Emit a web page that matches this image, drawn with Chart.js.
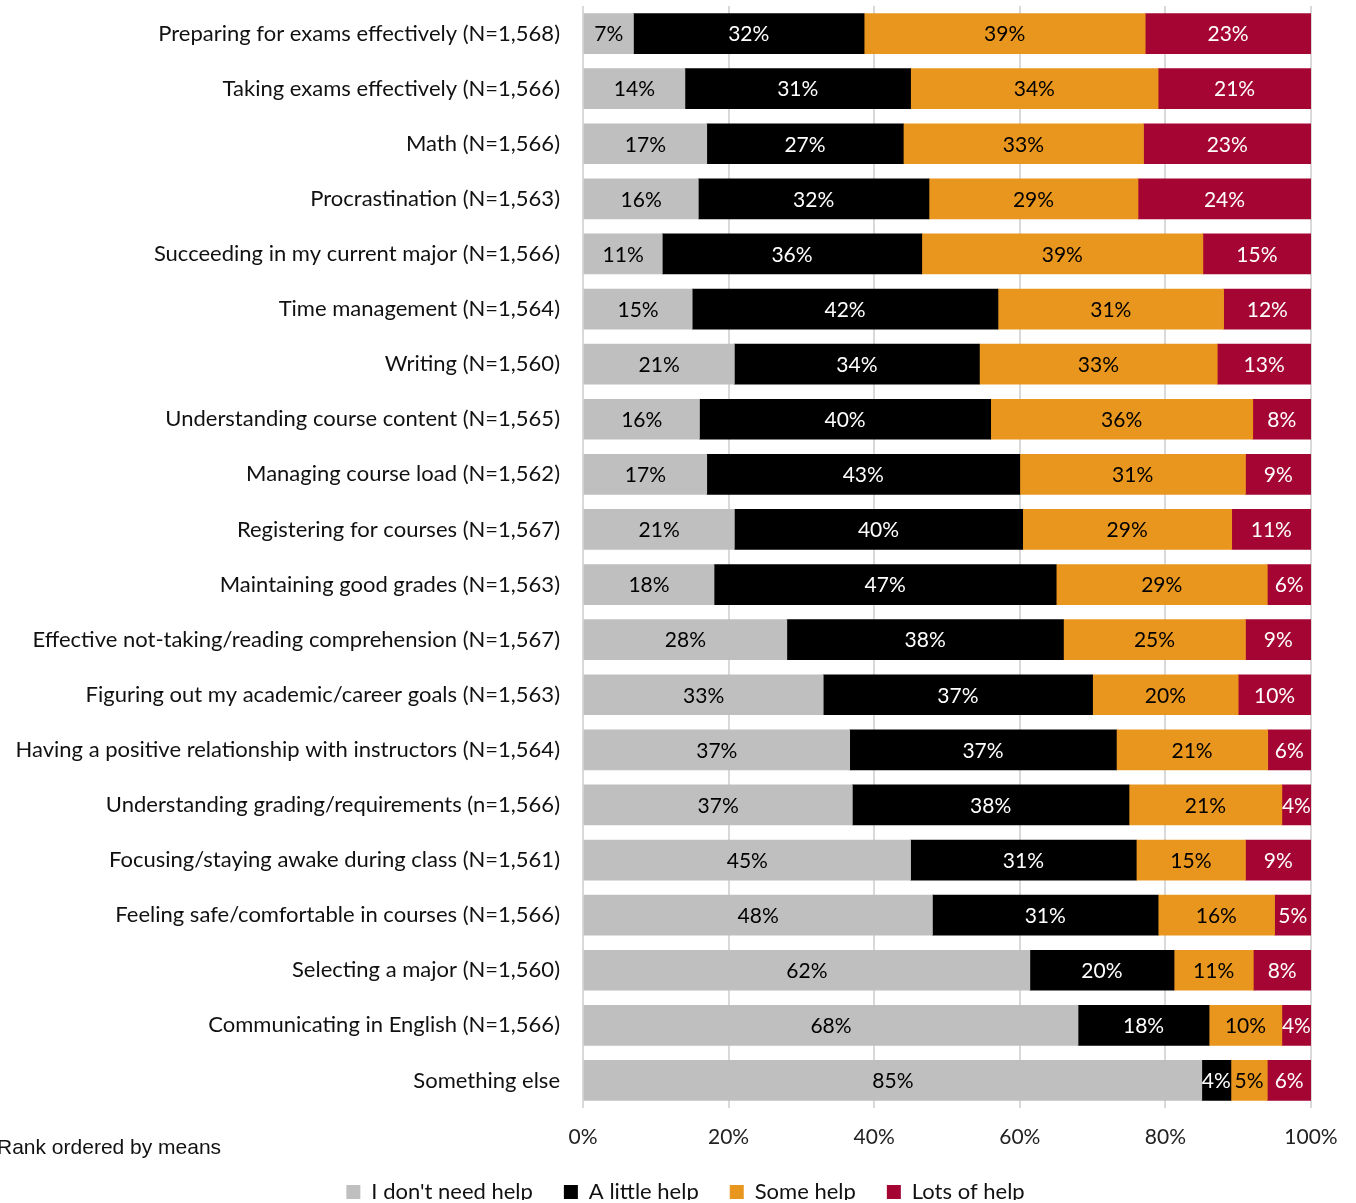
<!DOCTYPE html>
<html>
<head>
<meta charset="utf-8">
<script src="https://cdn.jsdelivr.net/npm/chart.js@4"></script>
<style>
  body { margin: 0; background: #fff; }
  #wrap { width: 1356px; height: 1203px; position: relative; }
</style>
</head>
<body>
<div id="wrap"><canvas id="helpChart"></canvas></div>
<script>
// categories, top to bottom
var categories = [
    'Preparing for exams effectively (N=1,568)',
    'Taking exams effectively (N=1,566)',
    'Math (N=1,566)',
    'Procrastination (N=1,563)',
    'Succeeding in my current major (N=1,566)',
    'Time management (N=1,564)',
    'Writing (N=1,560)',
    'Understanding course content (N=1,565)',
    'Managing course load (N=1,562)',
    'Registering for courses (N=1,567)',
    'Maintaining good grades (N=1,563)',
    'Effective not-taking/reading comprehension (N=1,567)',
    'Figuring out my academic/career goals (N=1,563)',
    'Having a positive relationship with instructors (N=1,564)',
    'Understanding grading/requirements (n=1,566)',
    'Focusing/staying awake during class (N=1,561)',
    'Feeling safe/comfortable in courses (N=1,566)',
    'Selecting a major (N=1,560)',
    'Communicating in English (N=1,566)',
    'Something else'
];

var seriesNames = ["I don't need help", 'A little help', 'Some help', 'Lots of help'];

var noHelp     = [7, 14, 17, 16, 11, 15, 21, 16, 17, 21, 18, 28, 33, 37, 37, 45, 48, 62, 68, 85];
var littleHelp = [32, 31, 27, 32, 36, 42, 34, 40, 43, 40, 47, 38, 37, 37, 38, 31, 31, 20, 18, 4];
var someHelp   = [39, 34, 33, 29, 39, 31, 33, 36, 31, 29, 29, 25, 20, 21, 21, 15, 16, 11, 10, 5];
var lotsHelp   = [23, 21, 23, 24, 15, 12, 13, 8, 9, 11, 6, 9, 10, 6, 4, 9, 5, 8, 4, 6];

var xTicks = [0, 20, 40, 60, 80, 100];

var allSeries = [noHelp, littleHelp, someHelp, lotsHelp];
var fills = ['#BFBFBF', '#000000', '#E9961E', '#A50533'];
var labelColors = ['#000000', '#FFFFFF', '#000000', '#FFFFFF'];
var FONT = 'Lato, "Open Sans", sans-serif';

// 100% stacked: share of each row's total
var rowTotals = categories.map(function (c, i) {
    return noHelp[i] + littleHelp[i] + someHelp[i] + lotsHelp[i];
});

var datasets = allSeries.map(function (vals, s) {
    return {
        label: seriesNames[s],
        data: vals.map(function (v, i) { return v / rowTotals[i] * 100; }),
        raw: vals,
        backgroundColor: fills[s],
        borderWidth: 0,
        barThickness: 40
    };
});

var segmentLabels = {
    id: 'segmentLabels',
    afterDatasetsDraw: function (chart) {
        var ctx = chart.ctx;
        ctx.save();
        ctx.font = '21px ' + FONT;
        ctx.textAlign = 'center';
        ctx.textBaseline = 'middle';
        chart.data.datasets.forEach(function (ds, s) {
            var meta = chart.getDatasetMeta(s);
            ctx.fillStyle = labelColors[s];
            meta.data.forEach(function (bar, i) {
                var cx = (bar.x + bar.base) / 2;
                ctx.fillText(ds.raw[i] + '%', cx, bar.y + 1);
            });
        });
        ctx.restore();
    }
};

// legend: keep wide gaps between items but a short box, then sit it at the bottom
var legendFit = {
    id: 'legendFit',
    beforeLayout: function (chart) {
        var lg = chart.legend;
        if (lg && !lg._shortFit) {
            var origFit = lg.fit;
            lg.fit = function () {
                origFit.apply(this, arguments);
                this.height = 50;
            };
            lg._shortFit = true;
        }
    },
    afterLayout: function (chart) {
        var lg = chart.legend;
        if (!lg) return;
        lg.top = 1150;
        lg.bottom = lg.top + lg.height;
        lg.left = 30;
        lg.right = 30 + lg.width;
    }
};

var footNote = {
    id: 'footNote',
    afterDraw: function (chart) {
        var ctx = chart.ctx;
        ctx.save();
        ctx.font = '21px "Liberation Sans", Arial, sans-serif';
        ctx.fillStyle = '#111';
        ctx.textAlign = 'left';
        ctx.textBaseline = 'middle';
        ctx.fillText('Rank ordered by means', -3, 1148);
        ctx.restore();
    }
};

var HelpCanvas = document.getElementById('helpChart');
var HelpChart = new Chart(HelpCanvas, {
    type: 'bar',
    data: {
        labels: categories,
        datasets: datasets
    },
    options: {
        indexAxis: 'y',
        responsive: true,
        maintainAspectRatio: false,
        animation: false,
        layout: {
            padding: { top: 6, right: 45, bottom: 0, left: 0 }
        },
        plugins: {
            legend: {
                position: 'bottom',
                labels: {
                    boxWidth: 14,
                    boxHeight: 14,
                    padding: 31,
                    color: '#111',
                    font: { family: FONT, size: 22 }
                }
            },
            tooltip: { enabled: false }
        },
        scales: {
            x: {
                stacked: true,
                min: 0,
                max: 100,
                afterBuildTicks: function (scale) {
                    scale.ticks = xTicks.map(function (v) { return { value: v }; });
                },
                afterFit: function (scale) { scale.height = 45; },
                ticks: {
                    padding: 17,
                    color: '#222',
                    font: { family: FONT, size: 21 },
                    callback: function (v) { return v + '%'; }
                },
                grid: { color: '#D9D9D9', lineWidth: 2, drawTicks: false },
                border: { display: false }
            },
            y: {
                stacked: true,
                afterFit: function (scale) {
                    scale.width = 583;
                    scale.paddingTop = 0;
                    scale.paddingBottom = 0;
                },
                ticks: {
                    padding: 23,
                    color: '#111',
                    font: { family: FONT, size: 22 }
                },
                grid: { display: false, drawTicks: false },
                border: { display: false }
            }
        }
    },
    plugins: [segmentLabels, legendFit, footNote]
});
</script>
</body>
</html>
